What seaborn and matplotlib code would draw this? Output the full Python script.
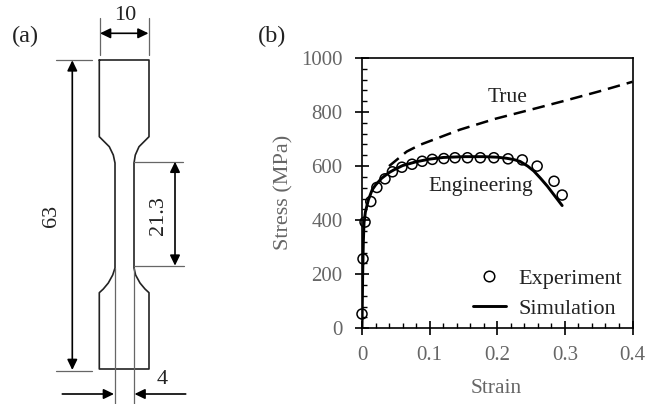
import numpy as np
import pandas as pd
import matplotlib
matplotlib.use("Agg")
import matplotlib.pyplot as plt
from matplotlib.ticker import MultipleLocator
import seaborn as sns

sns.set_style("white")
plt.rcParams['font.family'] = ['Liberation Serif', 'DejaVu Serif']

exp_strain = [0, 0.0015, 0.0045, 0.013, 0.022, 0.034, 0.045, 0.059, 0.074, 0.089, 0.104, 0.121, 0.1375, 0.156, 0.175, 0.195, 0.216, 0.237, 0.259, 0.284, 0.296]
exp_stress = [53, 257, 393, 469, 521, 553, 579, 596, 607, 618, 625, 628, 631, 631, 631, 631, 627, 623, 600, 544, 493]
sim_strain = [0, 0.0005, 0.001, 0.002, 0.003, 0.005, 0.0094, 0.015, 0.02, 0.029, 0.04, 0.047, 0.06, 0.08, 0.1, 0.12, 0.15, 0.18, 0.2, 0.214, 0.225, 0.234, 0.245, 0.254, 0.264, 0.274, 0.285, 0.296]
sim_stress = [0, 100, 200, 320, 390, 430, 475, 512, 530, 555, 576, 586, 602, 616, 626, 632, 635, 635, 633, 629, 624, 617, 600, 582, 555, 526, 490, 454]
true_strain = [0.04, 0.0662, 0.086, 0.145, 0.197, 0.259, 0.3, 0.35, 0.4]
true_stress = [600, 654, 679, 735, 775, 815, 842, 876, 912]
x_ticks = [0, 0.1, 0.2, 0.3, 0.4]
x_labels = ['0', '0.1', '0.2', '0.3', '0.4']
y_ticks = [0, 200, 400, 600, 800, 1000]

W, H = 647, 404
fig = plt.figure(figsize=(W/100, H/100), dpi=100)
fig.patch.set_facecolor('white')

GRAY = '#666666'
DARK = '#222222'

# Stress-strain panel
L, R, T, B = 362, 632.5, 58, 328.3
ax = fig.add_axes([L/W, 1-B/H, (R-L)/W, (B-T)/H])
ax.set_facecolor('none')
sns.lineplot(x=true_strain, y=true_stress, ax=ax, color='black', lw=1.8, linestyle=(0, (5.0, 2.8)), sort=False, errorbar=None)
sns.lineplot(x=sim_strain, y=sim_stress, ax=ax, color='black', lw=2.1, sort=False, errorbar=None)
sns.scatterplot(x=exp_strain, y=exp_stress, ax=ax, s=52, marker='o', facecolor='none', edgecolor='black', linewidth=1.1, clip_on=False, zorder=5)
ax.set_xlim(0, 0.4)
ax.set_ylim(0, 1000)
for s in ax.spines.values():
    s.set_visible(True)
    s.set_linewidth(1.2)
    s.set_color('black')
ax.set_xticks(x_ticks)
ax.set_xticklabels(x_labels)
ax.set_yticks(y_ticks)
ax.xaxis.set_minor_locator(MultipleLocator(0.02))
ax.yaxis.set_minor_locator(MultipleLocator(40))
ax.tick_params(which='major', direction='inout', length=10, width=1.2, color='black', labelsize=15, labelcolor=GRAY, left=True, bottom=True)
ax.tick_params(axis='x', which='major', pad=8)
ax.tick_params(axis='y', which='major', pad=9)
ax.tick_params(which='minor', direction='in', length=3.8, width=1.0, color='black', left=True, bottom=True)
ax.set_xlabel('Strain', fontsize=15.5, color=GRAY)
ax.set_ylabel('Stress (MPa)', fontsize=16, color=GRAY)
ax.xaxis.set_label_coords(0.495, -0.186)
ax.yaxis.set_label_coords(-0.255, 0.504)
ax.text(0.2155, 855, 'True', fontsize=15.5, color=DARK, ha='center', va='center')
ax.text(0.1755, 524, 'Engineering', fontsize=15.5, color=DARK, ha='center', va='center')

leg_h = [
    plt.Line2D([], [], marker='o', ls='none', mfc='none', mec='black', mew=1.1, ms=7.6),
    plt.Line2D([], [], color='black', lw=2.1),
]
leg = ax.legend(leg_h, ['Experiment', 'Simulation'], loc='lower left', bbox_to_anchor=((472.7-L)/(R-L), (B-319)/(B-T)), frameon=False,
                fontsize=16, handlelength=1.5, handletextpad=0.55, labelspacing=0.42, borderpad=0, borderaxespad=0)
for t in leg.get_texts():
    t.set_color(DARK)

# Specimen schematic panel (pixel coordinates)
ov = fig.add_axes([0, 0, 1, 1], zorder=-1)
ov.set_xlim(0, W)
ov.set_ylim(H, 0)
ov.axis('off')

left_x = [99.3, 99.3, 103.3, 109.3, 113.3, 115, 115, 112.7, 108.3, 103.3, 99.3, 99.3]
left_y = [60, 136.7, 140.7, 146.7, 155, 163, 268, 275, 283, 289, 292.7, 369]
right_x = [149, 149, 145, 139, 135.3, 134, 134, 135.6, 140, 145, 149, 149]
edge_x = left_x + right_x[::-1] + [left_x[0]]
edge_y = left_y + left_y[::-1] + [left_y[0]]
ov.plot(edge_x, edge_y, color=DARK, lw=1.2, solid_joinstyle='round')

thin = [((99.5, 99.5), (18, 55)), ((149, 149), (18, 55)),
        ((55.7, 91.7), (60, 60)), ((55.7, 91.7), (370.7, 370.7)),
        ((134, 183), (161.5, 161.5)), ((134, 184), (265.7, 265.7)),
        ((115, 115), (268, 404)), ((134, 134), (268, 404))]
for xs, ys in thin:
    ov.plot(xs, ys, color='#666666', lw=0.9)

def dim(a, b, style='<|-|>'):
    ov.annotate('', xy=b, xytext=a, arrowprops=dict(arrowstyle=style + ',head_length=0.62,head_width=0.3', color='black', lw=1.2, shrinkA=0, shrinkB=0))

dim((100, 33.3), (148.5, 33.3))
dim((72.3, 60.3), (72.3, 370))
dim((175, 161.7), (175, 265.7))
dim((62.3, 394), (114, 394), '-|>')
dim((185.7, 394), (134.5, 394), '-|>')

txt = dict(color=DARK, ha='center', va='center')
ov.text(125.7, 15, '10', fontsize=16, **txt)
ov.text(25.7, 36.5, '(a)', fontsize=17.5, **txt)
ov.text(272, 36, '(b)', fontsize=17.5, **txt)
ov.text(51.7, 216, '63', fontsize=16, rotation=90, **txt)
ov.text(158.3, 216, '21.3', fontsize=16, rotation=90, **txt)
ov.text(161.7, 380, '4', fontsize=16, **txt)

fig.savefig('out.png', dpi=100)
